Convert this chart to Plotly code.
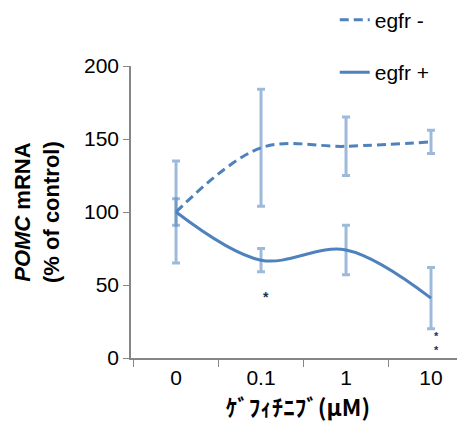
import plotly.graph_objects as go

categories = ["0", "0.1", "1", "10"]
egfr_minus = [100, 144, 145, 148]
egfr_minus_err = [35, 40, 20, 8]
egfr_plus = [100, 67, 74, 41]
egfr_plus_err = [9, 8, 17, 21]
y_ticks = [0, 50, 100, 150, 200]

LINE = "#4F81BD"
ERR = "rgba(79,129,189,0.55)"
FONT = "Liberation Sans, Arial, sans-serif"
STAR = "#1F2F4F"

fig = go.Figure()
fig.add_trace(go.Scatter(
    x=categories, y=egfr_minus, name="egfr -", mode="lines",
    line=dict(color=LINE, width=3, dash="9px,5px", shape="spline", smoothing=1.0),
    error_y=dict(type="data", array=egfr_minus_err, color=ERR, thickness=3, width=4),
    legendgroup="a",
))
fig.add_trace(go.Scatter(
    x=categories, y=egfr_plus, name="egfr +", mode="lines",
    line=dict(color=LINE, width=3, shape="spline", smoothing=1.0),
    error_y=dict(type="data", array=egfr_plus_err, color=ERR, thickness=3, width=4),
    legendgroup="b",
))

fig.add_annotation(x=1, y=42, text="<b>*</b>", showarrow=False, xshift=5,
                   font=dict(size=14, color=STAR, family=FONT))
fig.add_annotation(x=3, y=10, text="<b>*<br>*</b>", showarrow=False, xshift=5,
                   font=dict(size=11, color=STAR, family=FONT))

fig.add_annotation(xref="paper", yref="paper", x=(37 - 131) / 334, y=0.5,
                   text="<b><i>POMC</i> mRNA<br>(% of control)</b>", textangle=-90,
                   showarrow=False, xanchor="center", yanchor="middle",
                   font=dict(size=22, color="black", family=FONT))

fig.update_layout(
    width=457, height=424,
    margin=dict(l=123, r=0, t=58, b=74, autoexpand=False),
    paper_bgcolor="white", plot_bgcolor="white",
    font=dict(family=FONT, size=21, color="black"),
    showlegend=True,
    legend=dict(x=0.61, y=1.227, xanchor="left", yanchor="top",
                font=dict(size=21, family=FONT), tracegroupgap=22,
                bgcolor="rgba(0,0,0,0)"),
    xaxis=dict(
        type="category", range=[-0.53, 3.4],
        showline=True, linecolor="#868686", linewidth=1.5,
        ticks="outside", tickson="boundaries", ticklen=7, tickcolor="#868686",
        showgrid=False, zeroline=False,
        tickfont=dict(size=21, family=FONT),
        title=dict(text="<b>ｹﾞﾌｨﾁﾆﾌﾞ(μM)</b>", standoff=6,
                   font=dict(size=23, family="Noto Sans CJK JP, " + FONT)),
    ),
    yaxis=dict(
        range=[0, 200], tickvals=y_ticks,
        showline=True, linecolor="#868686", linewidth=1.5,
        ticks="outside", ticklen=6, tickcolor="#868686",
        showgrid=False, zeroline=False,
        tickfont=dict(size=21, family=FONT),
    ),
)

fig.write_html("out.html")
